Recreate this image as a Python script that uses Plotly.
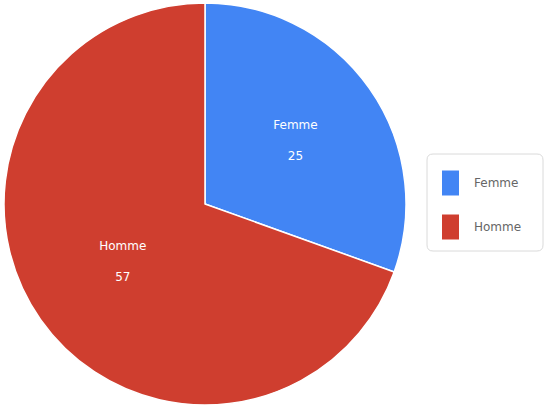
import plotly.graph_objects as go

labels = ["Femme", "Homme"]
values = [25, 57]
colors = ["#4285f4", "#cf3e2f"]

W, H = 547, 405


def px(x):
    return x / W


def py(y):
    return (H - y) / H


pie = go.Pie(
    labels=labels, values=values, sort=False, direction="clockwise", rotation=0,
    marker=dict(colors=colors, line=dict(color="white", width=1.5)),
    texttemplate="%{label}<br><br>%{value}", textposition="inside",
    insidetextorientation="horizontal",
    textfont=dict(color="white", size=12, family="DejaVu Sans"),
    domain=dict(x=[4 / W, 406 / W], y=[0, 402 / H]),
    hoverinfo="label+value+percent",
    showlegend=False,
)
fig = go.Figure(data=[pie])

# legend drawn by hand (rounded box, tall swatches, wide spacing)
x0, x1, y0, y1, r = 427, 543, 154, 251, 6
path = (f"M {px(x0 + r)},{py(y0)} L {px(x1 - r)},{py(y0)} Q {px(x1)},{py(y0)} {px(x1)},{py(y0 + r)} "
        f"L {px(x1)},{py(y1 - r)} Q {px(x1)},{py(y1)} {px(x1 - r)},{py(y1)} "
        f"L {px(x0 + r)},{py(y1)} Q {px(x0)},{py(y1)} {px(x0)},{py(y1 - r)} "
        f"L {px(x0)},{py(y0 + r)} Q {px(x0)},{py(y0)} {px(x0 + r)},{py(y0)} Z")
fig.add_shape(type="path", path=path, xref="paper", yref="paper",
              line=dict(color="#dadada", width=1), fillcolor="white")
for i, (lab, col) in enumerate(zip(labels, colors)):
    yc = 183 + 44 * i
    fig.add_shape(type="rect", xref="paper", yref="paper",
                  x0=px(442), x1=px(459), y0=py(yc - 12.5), y1=py(yc + 12.5),
                  fillcolor=col, line=dict(width=0))
    fig.add_annotation(x=px(472), y=py(yc), xref="paper", yref="paper", text=lab,
                       showarrow=False, xanchor="left", yanchor="middle",
                       font=dict(size=12, color="#666666", family="DejaVu Sans"))

fig.update_layout(
    width=W, height=H,
    margin=dict(l=0, r=0, t=0, b=0),
    paper_bgcolor="white",
    font=dict(family="DejaVu Sans"),
)
fig.write_html("out.html", config={"displayModeBar": False},
               post_script="document.body.style.margin='0';")
